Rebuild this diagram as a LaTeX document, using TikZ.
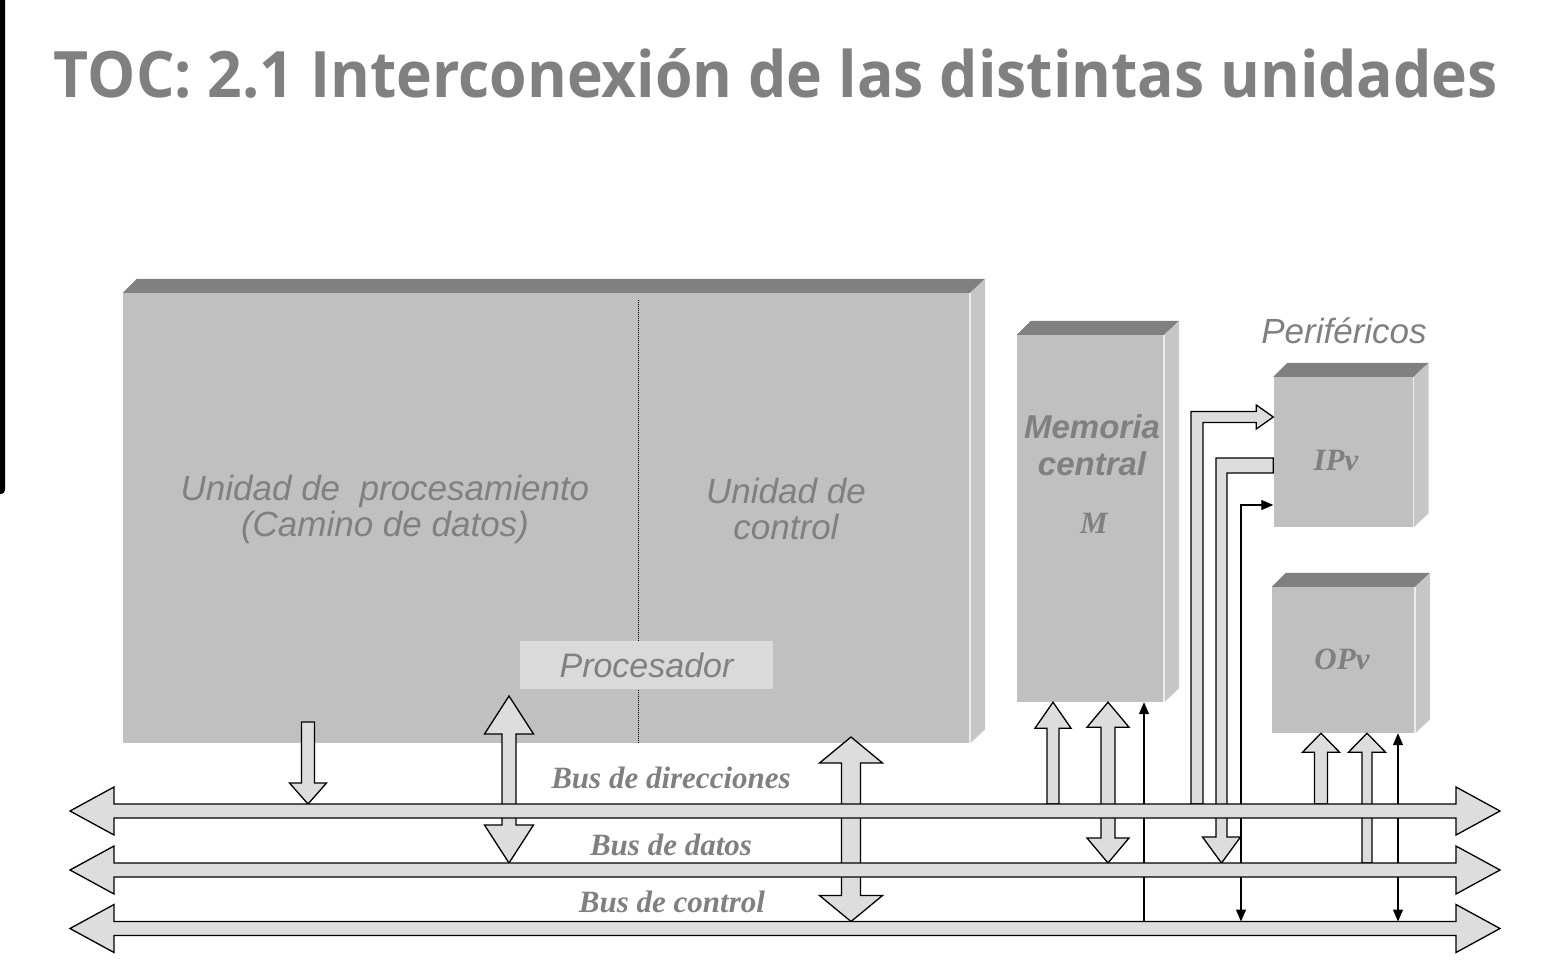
\documentclass[tikz,border=0pt]{standalone}
\usepackage{fontspec}
\setmainfont{Liberation Serif}
\setsansfont{Liberation Sans}
\newfontfamily\titlefont{Open Sans}
\usetikzlibrary{calc, arrows.meta}
\definecolor{boxfront}{RGB}{192,192,192}
\definecolor{boxtop}{RGB}{128,128,128}
\definecolor{boxside}{RGB}{198,198,198}
\definecolor{arrowfill}{RGB}{221,221,221}
\definecolor{labelgray}{RGB}{128,128,128}
\definecolor{tagfill}{RGB}{218,218,218}
\tikzstyle{unit} = [rectangle, fill=boxfront, inner sep=0pt]
\tikzstyle{tag} = [rectangle, fill=tagfill, inner sep=0pt, minimum width=253, minimum height=48, text=labelgray, font=\sffamily\itshape\fontsize{34}{34}\selectfont]
\tikzstyle{bus} = [draw=black, line width=1.3pt, fill=arrowfill, line join=miter]
\tikzstyle{wire} = [line width=1.3pt, >={Triangle[length=12pt,width=10pt]}]
\tikzstyle{unitlabel} = [text=labelgray, font=\sffamily\itshape\fontsize{35}{36}\selectfont, align=center]
\tikzstyle{memlabel} = [text=labelgray, font=\sffamily\bfseries\itshape\fontsize{33}{37}\selectfont, anchor=base]
\tikzstyle{buslabel} = [text=labelgray, font=\rmfamily\bfseries\itshape\fontsize{31}{31}\selectfont, anchor=base]
\newcommand{\shadebox}[1]{%
  \fill[boxtop] (#1.north west) -- ++(14,-14) -- ($(#1.north east)+(15,-14)$) -- (#1.north east) -- cycle;
  \fill[boxside] (#1.north east) -- ++(15,-14) -- ($(#1.south east)+(15,-14)$) -- (#1.south east) -- cycle;
  \draw[white!70!boxfront, line width=1.5pt] (#1.north east) -- (#1.south east);}
\newcommand{\barup}[5]{%
  \draw[bus] ($#1+(-#3,0)$) -- ($#2+(-#3,#5)$) -- ($#2+(-#4,#5)$) -- #2 -- ($#2+(#4,#5)$) -- ($#2+(#3,#5)$) -- ($#1+(#3,0)$) -- cycle;}
\newcommand{\bardown}[5]{%
  \draw[bus] ($#1+(-#3,0)$) -- ($#2+(-#3,-#5)$) -- ($#2+(-#4,-#5)$) -- #2 -- ($#2+(#4,-#5)$) -- ($#2+(#3,-#5)$) -- ($#1+(#3,0)$) -- cycle;}
\newcommand{\barboth}[5]{%
  \draw[bus] #1 -- ($#1+(#4,#5)$) -- ($#1+(#3,#5)$) -- ($#2+(#3,-#5)$) -- ($#2+(#4,-#5)$) -- #2 -- ($#2+(-#4,-#5)$) -- ($#2+(-#3,-#5)$) -- ($#1+(-#3,#5)$) -- ($#1+(-#4,#5)$) -- cycle;}
\newcommand{\busline}[2]{%
  \draw[bus] #1 -- ($#1+(44,-24)$) -- ($#1+(44,-7)$) -- ($#2+(-44,-7)$) -- ($#2+(-44,-24)$) -- #2 -- ($#2+(-44,24)$) -- ($#2+(-44,7)$) -- ($#1+(44,7)$) -- ($#1+(44,24)$) -- cycle;}

\begin{document}
\begin{tikzpicture}[x=1pt, y=-1pt]
\useasboundingbox (0,0) rectangle (1555,979);
\fill[black, rounded corners=4pt] (-8,-8) rectangle (5,494);
\node(title) [text=labelgray, font=\titlefont\bfseries\fontsize{64}{64}\selectfont, anchor=base] at (776,98) {\scalebox{0.948}[1]{TOC: 2.1 Interconexión de las distintas unidades}};

\node(cpu) [unit, minimum width=847, minimum height=450] at (546.5,518) {};
\node(mem) [unit, minimum width=147, minimum height=367] at (1090.5,518.5) {};
\node(ipv) [unit, minimum width=140, minimum height=150] at (1343.5,452) {};
\node(opv) [unit, minimum width=143, minimum height=146] at (1343.5,660) {};
\shadebox{cpu}
\shadebox{mem}
\shadebox{ipv}
\shadebox{opv}
\coordinate (split) at (638,300);
\draw[densely dotted, line width=1pt] (split) -- (split |- cpu.south);

\node(dp) [unitlabel] at (385,509) {Unidad de\ \ procesamiento\\(Camino de datos)};
\node(cu) [unitlabel] at (786,509) {Unidad de\\control};
\node(proc) [tag] at (646.5,665) {Procesador};
\node(memA) [memlabel] at (1092,438) {Memoria};
\node(memB) [memlabel] at (1092,475) {central};
\node(memM) [buslabel] at (1094,533) {M};
\node(ipvtxt) [buslabel] at (1336,470) {IPv};
\node(opvtxt) [buslabel] at (1342,669) {OPv};
\node(perif) [text=labelgray, font=\sffamily\itshape\fontsize{35}{35}\selectfont, anchor=base] at (1344,343) {Periféricos};

\coordinate (busAw) at (70,811);
\coordinate (busAe) at (1500,811);
\coordinate (busDw) at (70,870);
\coordinate (busDe) at (1500,870);
\coordinate (busCw) at (70,928.5);
\coordinate (busCe) at (1500,928.5);
\coordinate (topA) at ($(busAw)+(0,-7)$);
\coordinate (topD) at ($(busDw)+(0,-7)$);
\coordinate (topC) at ($(busCw)+(0,-7)$);

\coordinate (c1) at (308,722);
\coordinate (c2) at (509,696);
\coordinate (c3) at (851,737);
\coordinate (m1) at (1053,0);
\coordinate (m2) at (1108,0);
\coordinate (m3) at (1144,0);
\coordinate (i1) at (1197,417);
\coordinate (i2) at (1221.5,465.5);
\coordinate (i3) at (1241,505);
\coordinate (o1) at (1321,0);
\coordinate (o2) at (1367,0);
\coordinate (o3) at (1398,0);

\bardown{(c1)}{(c1 |- topA)}{6.5}{18.5}{21}
\barboth{(c2)}{(c2 |- topD)}{7}{24.5}{38}
\barboth{(c3)}{(c3 |- topC)}{9.5}{31.5}{26}
\barup{(m1 |- topA)}{(m1 |- mem.south)}{6}{18}{26}
\barboth{(m2 |- mem.south)}{(m2 |- topD)}{7}{21}{25}
\barup{(o1 |- topA)}{(o1 |- opv.south)}{6.5}{18.5}{19}
\barup{(o2 |- topD)}{(o2 |- opv.south)}{5}{18.5}{19}
\draw[bus] ($(i1 |- topA)+(-6,0)$) -- ($(i1)+(-6,-5.5)$) -- ($(i1 -| ipv.west)+(-17,-5.5)$) -- ($(i1 -| ipv.west)+(-17,-12)$) -- (i1 -| ipv.west) -- ($(i1 -| ipv.west)+(-17,12)$) -- ($(i1 -| ipv.west)+(-17,5.5)$) -- ($(i1)+(6,5.5)$) -- ($(i1 |- topA)+(6,0)$) -- cycle;
\draw[bus] ($(i2 -| ipv.west)+(0,-7.5)$) -- ($(i2)+(-5.5,-7.5)$) -- ($(i2 |- topD)+(-5.5,-26)$) -- ($(i2 |- topD)+(-19,-26)$) -- (i2 |- topD) -- ($(i2 |- topD)+(19,-26)$) -- ($(i2 |- topD)+(5.5,-26)$) -- ($(i2)+(5.5,7.5)$) -- ($(i2 -| ipv.west)+(0,7.5)$) -- cycle;
\draw[wire, ->] (m3 |- topC) -- (m3 |- mem.south);
\draw[wire, <->] (i3 -| ipv.west) -- (i3) -- (i3 |- topC);
\draw[wire, <->] (o3 |- topC) -- (o3 |- opv.south);

\busline{(busAw)}{(busAe)}
\busline{(busDw)}{(busDe)}
\busline{(busCw)}{(busCe)}
\node(lblA) [buslabel] at (671,788) {Bus de direcciones};
\node(lblD) [buslabel] at (671,855) {Bus de datos};
\node(lblC) [buslabel] at (672,912) {Bus de control};
\end{tikzpicture}
\end{document}
